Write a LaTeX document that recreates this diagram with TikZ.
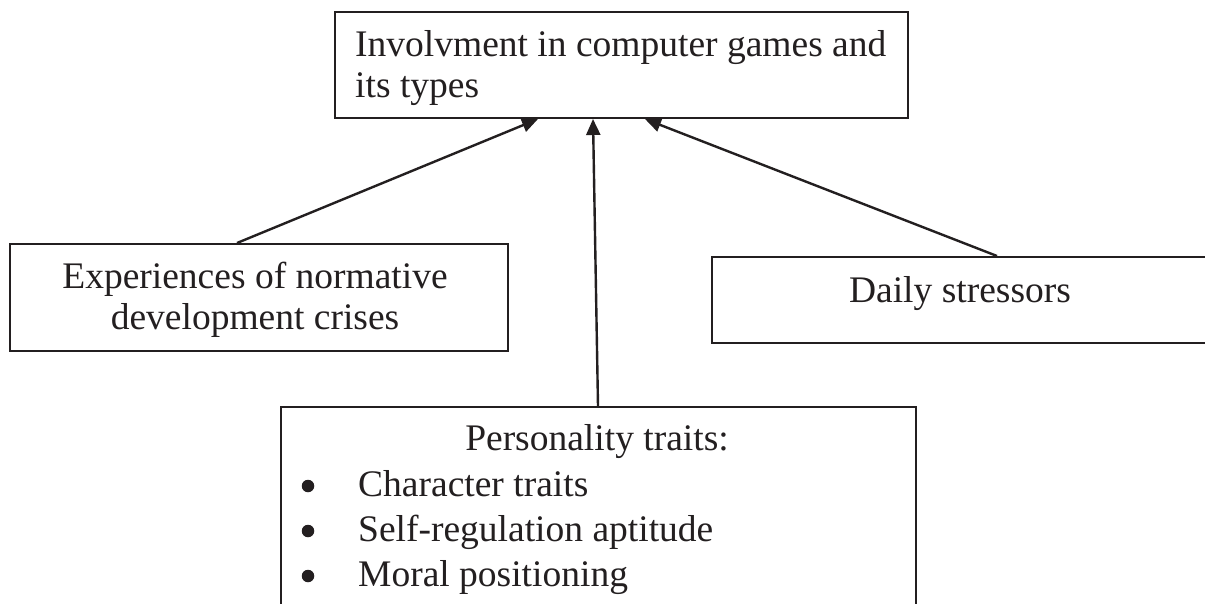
\documentclass[tikz,border=0pt]{standalone}
\usepackage{fontspec}
\setmainfont{Liberation Serif}
\usetikzlibrary{arrows.meta,calc}
\definecolor{ink}{HTML}{231F20}
\tikzset{
  boxshape/.style={draw=ink, line width=2pt, rectangle, inner sep=0pt, anchor=north west},
  txt/.style={inner sep=0pt, text=ink, font=\fontsize{37.5}{41}\selectfont},
  conn/.style={draw=ink, line width=2.4pt, -{Triangle[length=16pt,width=14pt]}},
  bul/.style={circle, fill=ink, inner sep=0pt, minimum size=12.5pt}
}
\begin{document}
\begin{tikzpicture}[x=1pt,y=-1pt]
\useasboundingbox (0,0) rectangle (1205,603);
\clip (0,0) rectangle (1205,603);
\fill[white] (0,0) rectangle (1205,603);
% boxes
\node[boxshape, minimum width=573pt, minimum height=106pt] (top) at (334,11) {};
\node[boxshape, minimum width=498pt, minimum height=107pt] (left) at (9,243) {};
\node[boxshape, minimum width=520pt, minimum height=86pt] (right) at (711,256) {};
\node[boxshape, minimum width=635pt, minimum height=230pt] (bottom) at (280,406) {};
% texts
\node[txt, anchor=base west] (t1) at (355,56) {Involvment in computer games and};
\node[txt, anchor=base west] (t2) at (355,97) {its types};
\node[txt, anchor=base] (l1) at (255,288) {Experiences of normative};
\node[txt, anchor=base] (l2) at (255,329) {development crises};
\node[txt, anchor=base] (r1) at (960,302) {Daily stressors};
\node[txt, anchor=base] (p0) at (597,450) {Personality traits:};
\node[txt, anchor=base west] (p1) at (358,496) {Character traits};
\node[txt, anchor=base west] (p2) at (358,541) {Self-regulation aptitude};
\node[txt, anchor=base west] (p3) at (358,586) {Moral positioning};
\node[bul] (b1) at (308,486) {};
\node[bul] (b2) at (308,531) {};
\node[bul] (b3) at (308,576) {};
% connectors
\draw[conn] ($(left.north west)+(228,0)$) -- ($(top.south west)+(204,0)$);
\draw[conn] ($(bottom.north west)+(318,0)$) -- ($(top.south west)+(259,0)$);
\draw[conn] ($(right.north west)+(286,0)$) -- ($(top.south west)+(311,0)$);
\end{tikzpicture}
\end{document}
